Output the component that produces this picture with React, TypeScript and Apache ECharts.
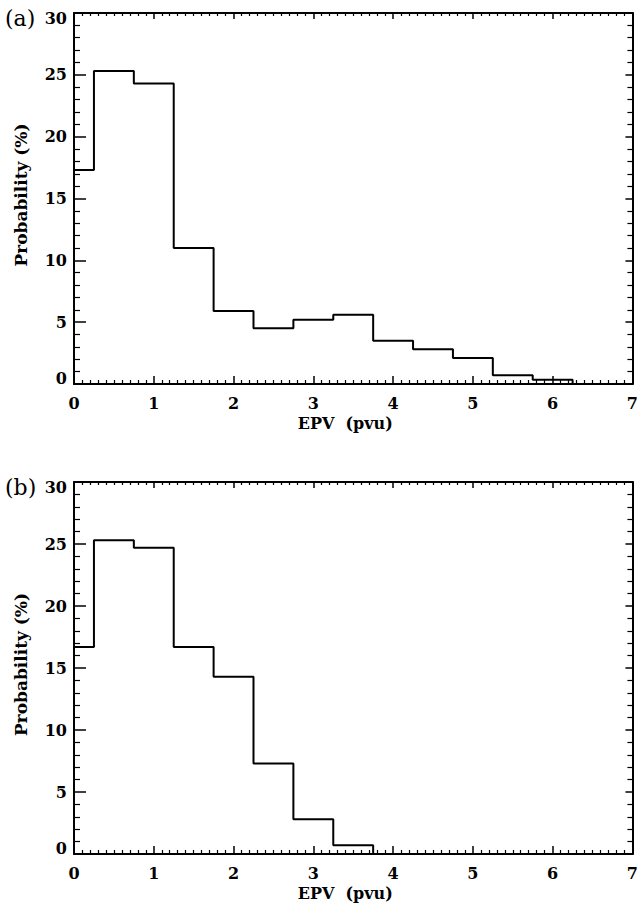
import React, { useEffect, useRef } from "react";
import * as echarts from "echarts";

const binStartsA = [0, 0.25, 0.75, 1.25, 1.75, 2.25, 2.75, 3.25, 3.75, 4.25, 4.75, 5.25, 5.75, 6.25];
const probA = [17.3, 25.3, 24.3, 11.0, 5.9, 4.5, 5.2, 5.6, 3.5, 2.8, 2.1, 0.7, 0.35, 0];
const binStartsB = [0, 0.25, 0.75, 1.25, 1.75, 2.25, 2.75, 3.25, 3.75];
const probB = [16.7, 25.3, 24.7, 16.7, 14.3, 7.3, 2.8, 0.7, 0];
const panelLabels = ["(a)", "(b)"];
const xTitle = "EPV  (pvu)";
const yTitle = "Probability (%)";

const FONT = "DejaVu Serif";

export default function App() {
  const ref = useRef<HTMLDivElement>(null);
  useEffect(() => {
    if (!ref.current) return;
    const chart = echarts.init(ref.current, null, { renderer: "svg" });
    const grids = [
      { left: 74, top: 13, width: 563, height: 371 },
      { left: 74, top: 482, width: 563, height: 372 },
    ];
    const axisLine = { show: true, onZero: false, lineStyle: { color: "#000", width: 2 } };
    const xAxes: any[] = [];
    const yAxes: any[] = [];
    grids.forEach((_, i) => {
      xAxes.push({
        type: "value", gridIndex: i, min: 0, max: 7, interval: 1, position: "bottom",
        axisLine,
        axisTick: { show: true, inside: true, length: 8, lineStyle: { color: "#000", width: 1.5 } },
        minorTick: { show: true, splitNumber: 10, length: 4, lineStyle: { color: "#000", width: 1.2 } },
        splitLine: { show: false },
        axisLabel: { show: true, margin: 11, color: "#000", fontFamily: FONT, fontWeight: "bold", fontSize: 16 },
        name: xTitle, nameLocation: "middle", nameGap: 31,
        nameTextStyle: { color: "#000", fontFamily: FONT, fontWeight: "bold", fontSize: 16, padding: [0, 16, 0, 0] },
      });
      xAxes.push({
        type: "value", gridIndex: i, min: 0, max: 7, interval: 1, position: "top",
        axisLine,
        axisTick: { show: true, inside: true, length: 6, lineStyle: { color: "#000", width: 1.5 } },
        minorTick: { show: true, splitNumber: 10, length: 3, lineStyle: { color: "#000", width: 1.2 } },
        splitLine: { show: false },
        axisLabel: { show: false },
      });
      yAxes.push({
        type: "value", gridIndex: i, min: 0, max: 30, interval: 5, position: "left",
        axisLine,
        axisTick: { show: true, inside: true, length: 12, lineStyle: { color: "#000", width: 1.5 } },
        minorTick: { show: true, splitNumber: 5, length: 6, lineStyle: { color: "#000", width: 1.2 } },
        splitLine: { show: false },
        axisLabel: {
          show: true, margin: 7, color: "#000", fontFamily: FONT, fontWeight: "bold", fontSize: 16,
          formatter: (v: number) => (v === 30 ? "{top|30}" : v === 0 ? "{bot|0}" : String(v)),
          rich: {
            top: { fontFamily: FONT, fontWeight: "bold", fontSize: 16, color: "#000", padding: [10, 0, 0, 0] },
            bot: { fontFamily: FONT, fontWeight: "bold", fontSize: 16, color: "#000", padding: [0, 0, 12, 0] },
          },
        },
        name: yTitle, nameLocation: "middle", nameGap: 45, nameRotate: 90,
        nameTextStyle: { color: "#000", fontFamily: FONT, fontWeight: "bold", fontSize: 17, padding: [0, 0, 0, 7] },
      });
      yAxes.push({
        type: "value", gridIndex: i, min: 0, max: 30, interval: 5, position: "right",
        axisLine,
        axisTick: { show: true, inside: true, length: 7, lineStyle: { color: "#000", width: 1.5 } },
        minorTick: { show: true, splitNumber: 5, length: 5, lineStyle: { color: "#000", width: 1.2 } },
        splitLine: { show: false },
        axisLabel: { show: false },
      });
    });
    const mk = (xs: number[], ys: number[]) => xs.map((x, k) => [x, ys[k]]);
    const series = [
      { data: mk(binStartsA, probA), idx: 0 },
      { data: mk(binStartsB, probB), idx: 1 },
    ].map((s) => ({
      type: "line", step: "end", xAxisIndex: s.idx * 2, yAxisIndex: s.idx * 2,
      data: s.data, symbol: "none", lineStyle: { color: "#000", width: 2 }, clip: false,
    }));
    chart.setOption({
      animation: false,
      backgroundColor: "#fff",
      grid: grids,
      xAxis: xAxes,
      yAxis: yAxes,
      series,
      graphic: panelLabels.map((t, i) => ({
        type: "text", left: 5, top: i === 0 ? 7 : 476,
        style: { text: t, fill: "#000", font: `22px "${FONT}"` },
      })),
    });
    return () => chart.dispose();
  }, []);
  return (
    <div ref={ref} style={{ position: "fixed", left: 0, top: 0, width: 641, height: 906, background: "#fff" }} />
  );
}
